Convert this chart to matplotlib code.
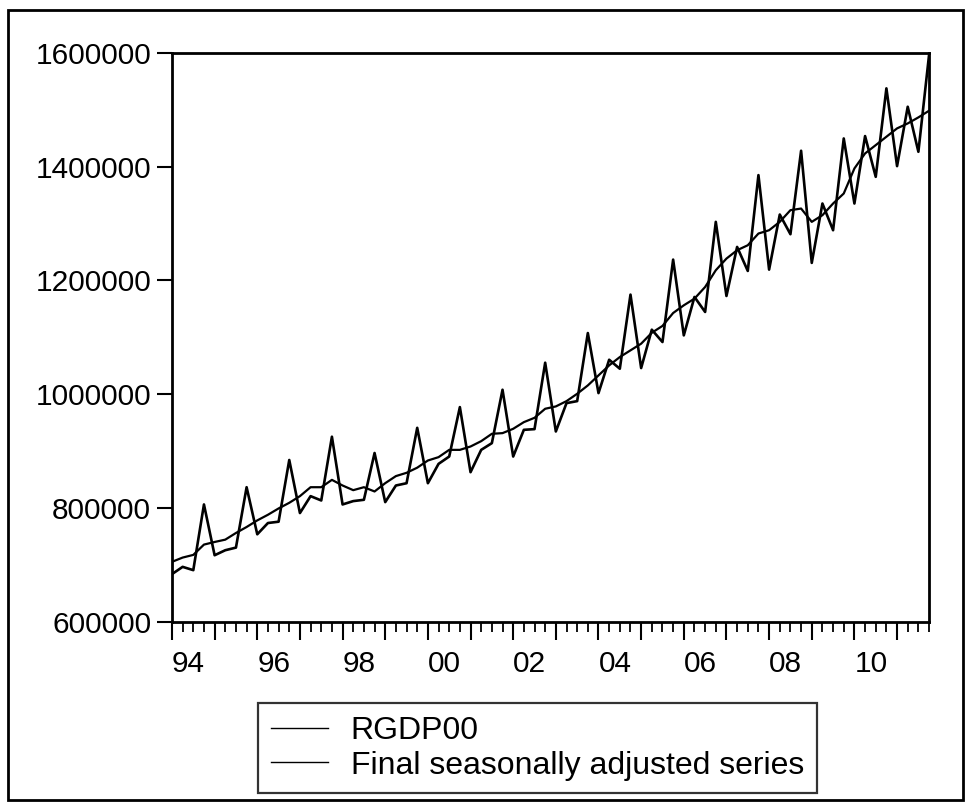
import matplotlib
matplotlib.use("Agg")
import matplotlib.pyplot as plt
import numpy as np
from matplotlib.patches import Rectangle
from matplotlib.ticker import FixedLocator

plt.rcParams['font.family'] = ['Liberation Sans', 'DejaVu Sans']

start_year = 1994
n_quarters = 72

rgdp00 = [684000, 696800, 691000, 806400, 717200, 726000, 730600, 836700,
          754000, 773800, 776100, 884500, 791300, 821000, 813400, 925400,
          806400, 812300, 814600, 896800, 810500, 839700, 843700, 941000,
          843700, 877700, 890600, 977400, 863100, 902300, 914100, 1007900,
          890600, 937500, 938700, 1055400, 934600, 984400, 987900, 1107500,
          1002000, 1060600, 1044800, 1175000, 1046000, 1113400, 1091700, 1236500,
          1103400, 1170900, 1144500, 1302800, 1172600, 1258800, 1216600, 1384900,
          1218900, 1315700, 1281100, 1427700, 1230700, 1335000, 1288100, 1449300,
          1335000, 1453500, 1381900, 1537300, 1400700, 1505000, 1425900, 1595900]

sa_series = [705600, 713100, 717800, 735900, 740500, 744600, 756300, 766800,
             778400, 788300, 799400, 809300, 821000, 836700, 836700, 849600,
             839700, 831500, 836700, 829200, 843800, 856200, 862000, 871000,
             883600, 889500, 902300, 902300, 908200, 917600, 930500, 931700,
             939300, 951000, 958600, 974500, 978600, 987900, 1000800, 1015500,
             1033100, 1050700, 1065300, 1077100, 1088800, 1108000, 1120000, 1142700,
             1156200, 1167900, 1188400, 1217800, 1238300, 1253000, 1261700, 1282300,
             1288100, 1302800, 1323300, 1326200, 1302800, 1314500, 1335000, 1352600,
             1396600, 1423000, 1437600, 1452300, 1467000, 1475700, 1486300, 1498000]

y_ticks = [600000, 800000, 1000000, 1200000, 1400000, 1600000]
x_label_years = [1994, 1996, 1998, 2000, 2002, 2004, 2006, 2008, 2010]
x_labels = ['94', '96', '98', '00', '02', '04', '06', '08', '10']
series_names = ['RGDP00', 'Final seasonally adjusted series']

t = start_year + np.arange(n_quarters) / 4.0

fig = plt.figure(figsize=(9.71, 8.09), dpi=100)
ax = fig.add_axes([0.1771, 0.2312, 0.9568 - 0.1771, 0.9349 - 0.2312])

l1, = ax.plot(t, rgdp00, color='black', lw=1.9)
l2, = ax.plot(t, sa_series, color='black', lw=1.6)

ax.set_xlim(t[0], t[-1])
ax.set_ylim(600000, 1600000)
ax.set_yticks(y_ticks)
ax.set_yticklabels([str(v) for v in y_ticks])

years = list(range(1994, 2012))
ax.xaxis.set_major_locator(FixedLocator(years))
ax.set_xticklabels([x_labels[x_label_years.index(y)] if y in x_label_years else '' for y in years])
ax.xaxis.set_minor_locator(FixedLocator(list(t)))
for lab in ax.get_xticklabels():
    lab.set_horizontalalignment('left')

ax.tick_params(axis='y', which='major', direction='out', length=11, width=1.5,
               labelsize=21.5, pad=4)
ax.tick_params(axis='x', which='major', direction='out', length=13, width=1.5,
               labelsize=21.5, pad=7)
ax.tick_params(axis='x', which='minor', direction='out', length=7, width=1.3)

for side in ['left', 'right', 'bottom', 'top']:
    ax.spines[side].set_linewidth(2.0)
    ax.spines[side].set_color('black')

leg = fig.legend([l1, l2], series_names, loc='upper left',
                 bbox_to_anchor=(258 / 971, 1 - 703 / 809),
                 frameon=True, fancybox=False, edgecolor='black',
                 fontsize=23, handlelength=1.8, handletextpad=0.7,
                 borderpad=0.4, labelspacing=0.15, borderaxespad=0)
leg.get_frame().set_linewidth(1.6)
for h in leg.get_lines():
    h.set_linewidth(1.0)

fig.patches.append(Rectangle((8 / 971, 1 - 800 / 809), (963 - 8) / 971, (800 - 10) / 809,
                             transform=fig.transFigure, fill=False,
                             edgecolor='black', lw=2.0))

fig.savefig('out.png', dpi=100)
